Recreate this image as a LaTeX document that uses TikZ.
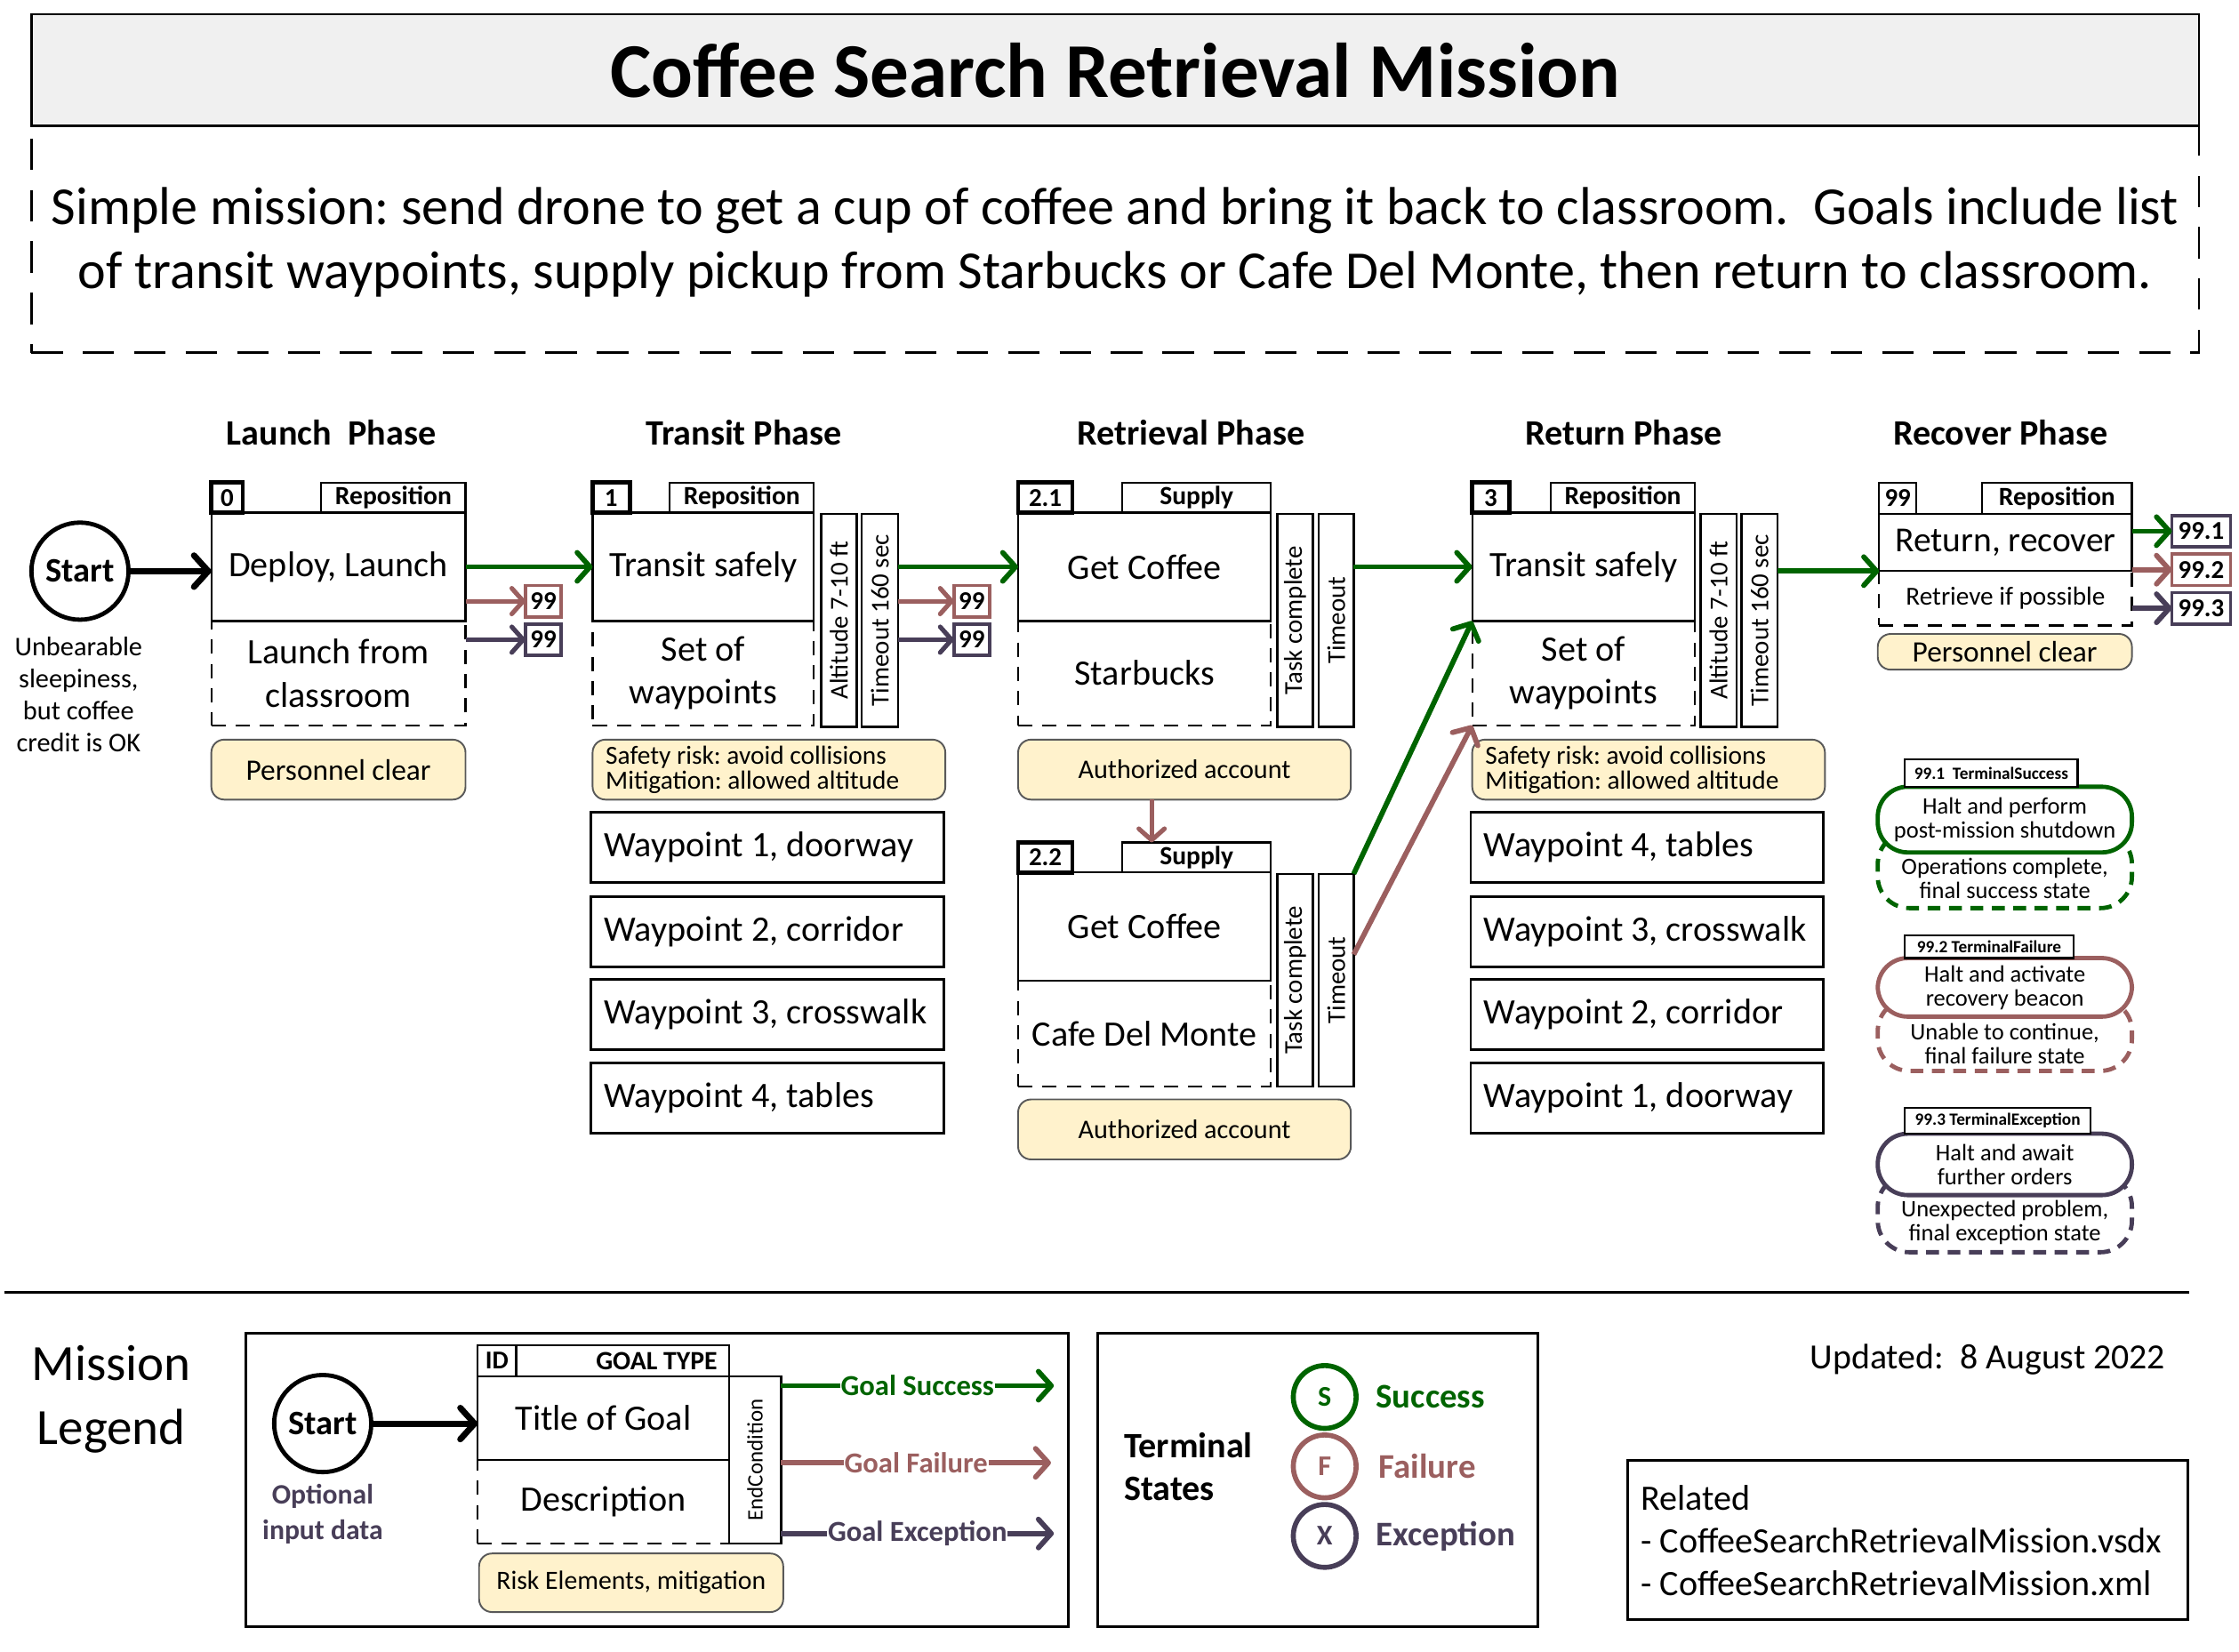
\documentclass[tikz,border=0pt]{standalone}
\usepackage{fontspec}
\setmainfont{Carlito}
\usetikzlibrary{arrows.meta,calc}
\frenchspacing
\definecolor{good}{RGB}{0,100,0}
\definecolor{bad}{RGB}{155,95,95}
\definecolor{exc}{RGB}{72,62,88}
\definecolor{riskfill}{RGB}{255,242,204}
\definecolor{titlefill}{RGB}{240,240,240}
\newcommand{\fsz}[2]{\fontsize{#1}{#2}\selectfont}
\newcommand{\rb}[7][]{\node[bx,minimum width={(#5-#3)*1pt},minimum height={(#6-#4)*1pt},#1] (#2) at (#3,#4) {#7};}
\tikzset{
 bx/.style={draw, line width=1.4pt, inner sep=0pt, outer sep=0pt, anchor=north west, align=center, font=\fsz{25}{30}},
 dsh/.style={dash pattern=on 10pt off 7pt},
 idb/.style={line width=3pt, font=\bfseries\fsz{18}{20}},
 typb/.style={font=\bfseries\fsz{18.4}{20}},
 risk/.style={fill=riskfill, draw=black!65, line width=1.2pt, rounded corners=9pt, font=\fsz{20.8}{24}},
 risktext/.style={anchor=west, align=left, inner sep=0pt, font=\fsz{18.3}{17.3}},
 vt/.style={rotate=90, inner sep=0pt, font=\fsz{18}{20}},
 wp/.style={line width=1.7pt},
 wptext/.style={anchor=west, inner sep=0pt, font=\fsz{25}{28}},
 fl/.style={line width=2.3pt, font=\bfseries\fsz{18}{20}},
 arr/.style={line width=3.6pt, -{Straight Barb[length=9pt,width=20pt,round]}},
 arrs/.style={line width=3.2pt, -{Straight Barb[length=8pt,width=18pt,round]}},
 arrb/.style={line width=4.3pt, -{Straight Barb[length=10pt,width=22pt,round]}},
 ph/.style={font=\bfseries\fsz{25}{28}},
 stad/.style={line width=3pt, fill=white, rounded corners=21pt, font=\fsz{16.5}{16.8}},
 stadd/.style={line width=3pt, dash pattern=on 9pt off 6pt, rounded corners=22pt},
 stadt/.style={align=center, inner sep=0pt, font=\fsz{16.5}{16.8}},
 tlab/.style={fill=white, line width=1.4pt, font=\bfseries\fsz{12}{14}},
 startc/.style={circle, draw, line width=3pt, minimum size=68pt, inner sep=0pt, font=\bfseries\fsz{24}{28}},
 lbl/.style={fill=white, inner sep=0.5pt, font=\bfseries\fsz{20.3}{22}},
 tcirc/.style={circle, line width=3.5pt, minimum size=44pt, inner sep=0pt, font=\bfseries\fsz{20}{22}},
 tname/.style={anchor=west, inner sep=0pt, font=\bfseries\fsz{24.2}{26}},
}
\begin{document}
\begin{tikzpicture}[x=1pt,y=-1pt]
\useasboundingbox (0,0) rectangle (1568,1156.4);
% ---------- title ----------
\rb[dash pattern=on 22pt off 14pt, line width=1.5pt]{desc}{22}{88}{1540}{247}{}
\node[align=center, inner sep=0pt, font=\fsz{37.4}{45}] (desct) at (781,169.5) {Simple mission: send drone to get a cup of coffee and bring it back to classroom.\ \ Goals include list\\of transit waypoints, supply pickup from Starbucks or Cafe Del Monte, then return to classroom.};
\rb[fill=titlefill, line width=1.5pt, font=\bfseries\fsz{54.3}{60}]{title}{22}{10}{1540}{88}{Coffee Search Retrieval Mission}
% ---------- phase headers ----------
\node[ph] (ph0) at (232,303) {Launch\ \ Phase};
\node[ph] (ph1) at (521,303) {Transit Phase};
\node[ph] (ph2) at (834,303) {Retrieval Phase};
\node[ph] (ph3) at (1137,303) {Return Phase};
\node[ph] (ph4) at (1401,303) {Recover Phase};
% ---------- start ----------
\node[startc] (start) at (56,400) {Start};
\node[align=center, inner sep=0pt, font=\fsz{18.9}{22.3}] (startnote) at (55,486.5) {Unbearable\\sleepiness,\\but coffee\\credit is OK};
% ---------- goal 0 ----------
\rb[idb]{g0id}{148}{338}{170}{359}{0}
\rb[typb]{g0ty}{225}{338}{326}{359}{Reposition}
\rb[dsh]{g0d}{148}{435}{326}{508}{Launch from\\classroom}
\rb{g0m}{148}{359}{326}{435}{Deploy, Launch}
\rb[risk]{g0r}{148}{518}{326}{560}{Personnel clear}
\rb[fl,draw=bad]{f0}{368}{410}{393}{432}{99}
\rb[fl,draw=exc]{x0}{368}{437}{393}{459}{99}
% ---------- goal 1 ----------
\rb[idb]{g1id}{415}{338}{441}{359}{1}
\rb[typb]{g1ty}{469}{338}{570}{359}{Reposition}
\rb[dsh]{g1d}{415}{435}{570}{508}{Set of\\waypoints}
\rb{g1m}{415}{359}{570}{435}{Transit safely}
\rb{g1a}{575}{360}{600}{509}{}
\node[vt] (g1at) at (g1a.center) {Altitude 7-10 ft};
\rb{g1t}{603.5}{360}{629}{509}{}
\node[vt] (g1tt) at (g1t.center) {Timeout 160 sec};
\rb[risk]{g1r}{415}{518}{662}{560}{}
\node[risktext] (g1rt) at ([xshift=9pt]g1r.west) {Safety risk: avoid collisions\\Mitigation: allowed altitude};
\rb[fl,draw=bad]{f1}{668}{410}{693}{432}{99}
\rb[fl,draw=exc]{x1}{668}{437}{693}{459}{99}
\rb[wp]{w11}{414}{569}{661}{618}{}
\node[wptext] (w11t) at ([xshift=9pt]w11.west) {Waypoint 1, doorway};
\rb[wp]{w12}{414}{628}{661}{677}{}
\node[wptext] (w12t) at ([xshift=9pt]w12.west) {Waypoint 2, corridor};
\rb[wp]{w13}{414}{686}{661}{735}{}
\node[wptext] (w13t) at ([xshift=9pt]w13.west) {Waypoint 3, crosswalk};
\rb[wp]{w14}{414}{744.5}{661}{793.5}{}
\node[wptext] (w14t) at ([xshift=9pt]w14.west) {Waypoint 4, tables};
% ---------- goal 2.1 ----------
\rb[idb]{g2id}{713}{338}{751}{359}{2.1}
\rb[typb]{g2ty}{786}{338}{890}{359}{Supply}
\rb[dsh]{g2d}{713}{435}{890}{508}{Starbucks}
\rb{g2m}{713}{359}{890}{435}{Get Coffee}
\rb{g2c}{894.5}{360}{919.5}{509}{}
\node[vt] (g2ct) at (g2c.center) {Task complete};
\rb{g2t}{923.5}{360}{948}{509}{}
\node[vt] (g2tt) at (g2t.center) {Timeout};
\rb[risk, font=\fsz{18.8}{22}]{g2r}{713}{518}{946}{560}{Authorized account}
% ---------- goal 2.2 ----------
\rb[idb]{g22id}{713}{590}{751}{611}{2.2}
\rb[typb]{g22ty}{786}{590}{890}{611}{Supply}
\rb[dsh]{g22d}{713}{687}{890}{761}{Cafe Del Monte}
\rb{g22m}{713}{611}{890}{687}{Get Coffee}
\rb{g22c}{894.5}{612}{919.5}{761}{}
\node[vt] (g22ct) at (g22c.center) {Task complete};
\rb{g22t}{923.5}{612}{948}{761}{}
\node[vt] (g22tt) at (g22t.center) {Timeout};
\rb[risk, font=\fsz{18.8}{22}]{g22r}{713}{770}{946}{812}{Authorized account}
% ---------- goal 3 ----------
\rb[idb]{g3id}{1031}{338}{1057}{359}{3}
\rb[typb]{g3ty}{1086}{338}{1187}{359}{Reposition}
\rb[dsh]{g3d}{1031}{435}{1187}{508}{Set of\\waypoints}
\rb{g3m}{1031}{359}{1187}{435}{Transit safely}
\rb{g3a}{1191}{360}{1216}{509}{}
\node[vt] (g3at) at (g3a.center) {Altitude 7-10 ft};
\rb{g3t}{1219.5}{360}{1245}{509}{}
\node[vt] (g3tt) at (g3t.center) {Timeout 160 sec};
\rb[risk]{g3r}{1031}{518}{1278}{560}{}
\node[risktext] (g3rt) at ([xshift=9pt]g3r.west) {Safety risk: avoid collisions\\Mitigation: allowed altitude};
\rb[wp]{w34}{1030}{569}{1277}{618}{}
\node[wptext] (w34t) at ([xshift=9pt]w34.west) {Waypoint 4, tables};
\rb[wp]{w33}{1030}{628}{1277}{677}{}
\node[wptext] (w33t) at ([xshift=9pt]w33.west) {Waypoint 3, crosswalk};
\rb[wp]{w32}{1030}{686}{1277}{735}{}
\node[wptext] (w32t) at ([xshift=9pt]w32.west) {Waypoint 2, corridor};
\rb[wp]{w31}{1030}{744.5}{1277}{793.5}{}
\node[wptext] (w31t) at ([xshift=9pt]w31.west) {Waypoint 1, doorway};
% ---------- goal 99 ----------
\rb[font=\bfseries\fsz{18}{20}]{g9id}{1316}{338}{1342}{360}{99}
\rb[typb]{g9ty}{1388}{338}{1493}{360}{Reposition}
\rb[dsh, font=\fsz{18.2}{22}]{g9d}{1316}{400}{1493}{438}{Retrieve if possible}
\rb[font=\fsz{24.6}{28}]{g9m}{1316}{360}{1493}{400}{Return, recover}
\rb[risk]{g9r}{1315}{444}{1493}{469}{Personnel clear}
\rb[fl,draw=exc]{t1}{1521}{361}{1562}{383}{99.1}
\rb[fl,draw=bad]{t2}{1521}{388}{1562}{410}{99.2}
\rb[fl,draw=exc]{t3}{1521}{415}{1562}{437}{99.3}
% ---------- connectors ----------
\draw[arrb] (start.east) -- (start.east -| g0m.west);
\draw[arr, good] (g0m.east) -- (g1m.west);
\draw[arrs, bad] (g0m.east |- f0.west) -- (f0.west);
\draw[arrs, exc] (g0m.east |- x0.west) -- (x0.west);
\draw[arr, good] (g1t.east |- g1m.east) -- (g2m.west);
\draw[arrs, bad] (g1t.east |- f1.west) -- (f1.west);
\draw[arrs, exc] (g1t.east |- x1.west) -- (x1.west);
\draw[arr, good] (g2t.east |- g2m.east) -- (g3m.west);
\draw[arrs, bad] ([xshift=-23pt]g2r.south) -- ([xshift=-23pt]g2r.south |- g22ty.north);
\draw[arr, good] (g22t.north east) -- (g3m.south west);
\draw[arr, bad] ([yshift=18pt]g22t.east) -- (g3d.south west);
\draw[arr, good] (g3t.east |- g9m.south) -- (g9m.south west);
\draw[arr, good] (g9m.east |- t1.west) -- (t1.west);
\draw[arr, bad] (g9m.east |- t2.west) -- (t2.west);
\draw[arr, exc] (g9m.east |- t3.west) -- (t3.west);
% ---------- terminal states ----------
\rb[stadd, draw=good]{s1d}{1315}{583}{1493}{636}{}
\rb[stad, draw=good]{s1}{1315}{551}{1493}{597}{Halt and perform\\post-mission shutdown}
\node[stadt] (s1dt) at (1404,615) {Operations complete,\\final success state};
\rb[tlab]{s1l}{1334}{532}{1455}{551}{99.1\ \ TerminalSuccess}
\rb[stadd, draw=bad]{s2d}{1315}{700}{1493}{750}{}
\rb[stad, draw=bad]{s2}{1315}{671}{1493}{712}{Halt and activate\\recovery beacon}
\node[stadt] (s2dt) at (1404,731) {Unable to continue,\\final failure state};
\rb[tlab]{s2l}{1334}{655}{1452}{671}{99.2 TerminalFailure}
\rb[stadd, draw=exc]{s3d}{1315}{823}{1493}{877}{}
\rb[stad, draw=exc]{s3}{1315}{794}{1493}{837}{Halt and await\\further orders}
\node[stadt] (s3dt) at (1404,856) {Unexpected problem,\\final exception state};
\rb[tlab]{s3l}{1334}{776}{1464}{794}{99.3 TerminalException}
% ---------- separator ----------
\coordinate (sepL) at (3,905);
\coordinate (sepR) at (1533,905);
\draw[line width=1.5pt] (sepL) -- (sepR);
% ---------- legend ----------
\node[align=center, inner sep=0pt, font=\fsz{35.5}{45}] (mleg) at (78,980) {Mission\\Legend};
\rb[line width=1.8pt]{lbox}{172}{934}{748}{1139}{}
\node[startc] (lstart) at (226,997) {Start};
\node[align=center, inner sep=0pt, text=exc, font=\bfseries\fsz{19.7}{25}] (lopt) at (226,1060.5) {Optional\\input data};
\rb[font=\bfseries\fsz{18}{20}]{lid}{334.5}{942}{361.5}{964}{ID}
\rb{lty}{361.5}{942}{510.5}{964}{}
\node[anchor=east, inner sep=0pt, font=\bfseries\fsz{18.5}{20}] (ltyt) at ([xshift=-8pt]lty.east) {GOAL TYPE};
\rb[dsh]{ld}{334.5}{1022.5}{510.5}{1081}{Description}
\rb{lm}{334.5}{964}{510.5}{1022.5}{Title of Goal}
\rb{lec}{510.5}{964}{547}{1081}{}
\node[vt, font=\fsz{15.5}{18}] (lect) at (lec.center) {EndCondition};
\rb[risk, font=\fsz{18.5}{22}]{lr}{335.5}{1088}{548.5}{1129}{Risk Elements, mitigation}
\draw[arrb] (lstart.east) -- (lstart.east -| lm.west);
\coordinate (lsg) at (738,970.5);
\coordinate (lsf) at (736,1024.5);
\coordinate (lse) at (738,1074);
\draw[arr, good] (lec.east |- lsg) -- node[lbl, text=good] (lsgt) {Goal Success} (lsg);
\draw[arr, bad] (lec.east |- lsf) -- node[lbl, text=bad] (lsft) {Goal Failure} (lsf);
\draw[arr, exc] (lec.east |- lse) -- node[lbl, text=exc] (lset) {Goal Exception} (lse);
% terminal states legend
\rb[line width=1.8pt]{tbox}{769}{934}{1077}{1139}{}
\node[anchor=west, align=left, inner sep=0pt, font=\bfseries\fsz{25}{30}] (tst) at (787,1027) {Terminal\\States};
\node[tcirc, draw=good, text=good] (cs) at (927.7,978.4) {S};
\node[tcirc, draw=bad, text=bad] (cf) at (927.7,1027) {F};
\node[tcirc, draw=exc, text=exc] (cx) at (927.7,1075.7) {X};
\node[tname, text=good] (lsc) at ([xshift=12pt]cs.east) {Success};
\node[tname, text=bad] (lfa) at ([xshift=14pt]cf.east) {Failure};
\node[tname, text=exc] (lex) at ([xshift=12pt]cx.east) {Exception};
% updated and related
\node[font=\fsz{24.8}{28}] (upd) at (1392,952) {Updated:\ \ 8 August 2022};
\rb[line width=1.8pt]{rel}{1140}{1023}{1532}{1134}{}
\node[anchor=west, align=left, inner sep=0pt, font=\fsz{25}{30}] (relt) at (1149,1079) {Related\\- CoffeeSearchRetrievalMission.vsdx\\- CoffeeSearchRetrievalMission.xml};
\end{tikzpicture}
\end{document}
